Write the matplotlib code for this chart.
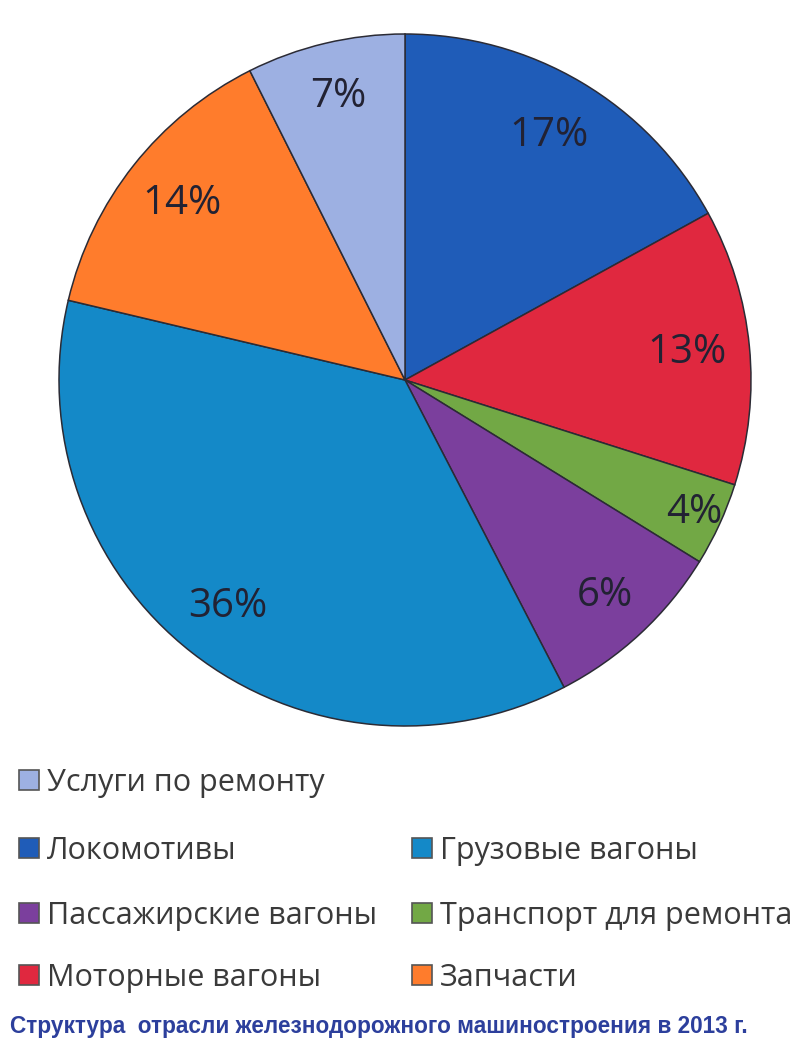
import matplotlib
matplotlib.use('Agg')
import matplotlib.pyplot as plt
import numpy as np
from matplotlib.patches import Rectangle

# slices clockwise from 12 o'clock, shares
categories = ['Локомотивы', 'Моторные вагоны', 'Транспорт для ремонта',
              'Пассажирские вагоны', 'Грузовые вагоны', 'Запчасти',
              'Услуги по ремонту']
shares = [17.0, 12.9, 3.9, 8.6, 36.3, 13.9, 7.4]
pct_labels = ['17%', '13%', '4%', '6%', '36%', '14%', '7%']
colors = ['#1f5cb8', '#e0283f', '#72a845', '#7b3f9d', '#1489c8', '#ff7c2c', '#9db0e2']
label_radius = [0.82, 0.82, 0.92, 0.85, 0.83, 0.82, 0.84]

# legend order as printed (row, column)
legend_order = ['Услуги по ремонту', 'Локомотивы', 'Грузовые вагоны',
                'Пассажирские вагоны', 'Транспорт для ремонта',
                'Моторные вагоны', 'Запчасти']
legend_slots = [(0, 0), (1, 0), (1, 1), (2, 0), (2, 1), (3, 0), (3, 1)]

caption = 'Структура  отрасли железнодорожного машиностроения в 2013 г.'

plt.rcParams['font.family'] = ['Open Sans', 'DejaVu Sans']

W, H = 800, 1047
fig = plt.figure(figsize=(W / 100, H / 100), dpi=100)
fig.patch.set_facecolor('white')

cx, cy, r = 405, 380, 346
ax = fig.add_axes([(cx - r) / W, (H - cy - r) / H, 2 * r / W, 2 * r / H])
wedges, _ = ax.pie(shares, colors=colors, startangle=90, counterclock=False,
                   wedgeprops=dict(edgecolor='#2b2b35', linewidth=1.1))
ax.set_aspect('equal')
ax.set_xlim(-1, 1)
ax.set_ylim(-1, 1)

for w, txt, rr in zip(wedges, pct_labels, label_radius):
    ang = np.deg2rad((w.theta1 + w.theta2) / 2)
    ax.text(rr * np.cos(ang), rr * np.sin(ang), txt, ha='center', va='center',
            fontsize=29, color='#222233')

# legend
row_y = [780, 848, 913, 975]
col_x = [19, 412]
sq = 20
for name, (row, col) in zip(legend_order, legend_slots):
    c = colors[categories.index(name)]
    x0, y0 = col_x[col], row_y[row]
    fig.patches.append(Rectangle((x0 / W, (H - y0 - sq / 2) / H), sq / W, sq / H,
                                 transform=fig.transFigure, facecolor=c,
                                 edgecolor='#555555', linewidth=1.2))
    fig.text((x0 + sq + 8) / W, (H - y0 - 3) / H, name, ha='left', va='center',
             fontsize=22, color='#3a3a3a')

fig.text(10 / W, (H - 1026) / H, caption, ha='left', va='center',
         fontsize=16.3, fontweight='bold', color='#2c3f9c',
         family=['Liberation Sans', 'DejaVu Sans'])

fig.savefig('out.png', dpi=100, facecolor='white')
